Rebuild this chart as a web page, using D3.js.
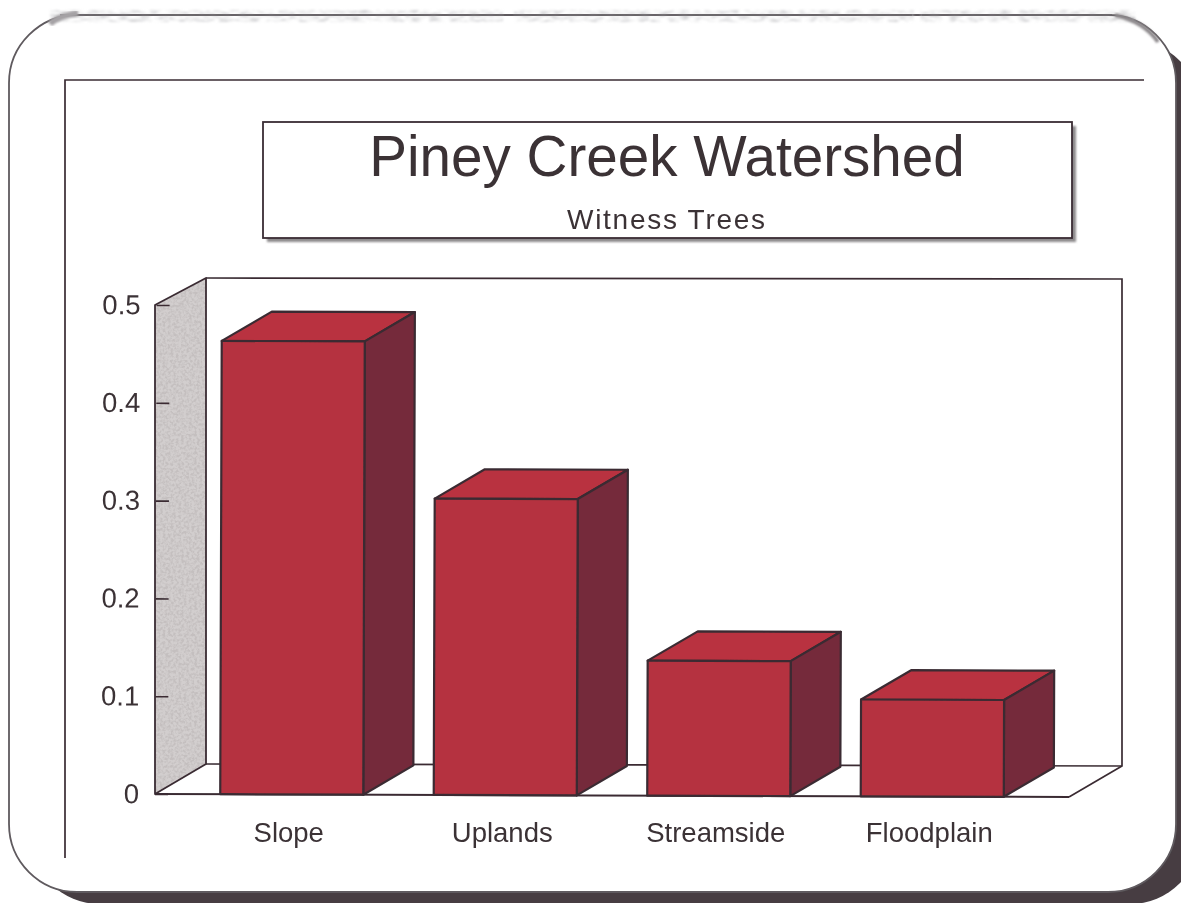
<!DOCTYPE html>
<html><head><meta charset="utf-8">
<script src="https://cdn.jsdelivr.net/npm/d3@7/dist/d3.min.js"></script>
<style>
html,body{margin:0;padding:0;background:#fff;overflow:hidden}
svg{display:block}
text{font-family:"Liberation Sans",Arial,sans-serif;fill:#3b3236}
</style></head><body>
<svg id="c" width="1181" height="903"></svg>
<script>
const categories = ["Slope","Uplands","Streamside","Floodplain"];
const values = [0.4635,0.303,0.138,0.099];
const tickValues = [0,0.1,0.2,0.3,0.4,0.5];
const tickLabels = ["0","0.1","0.2","0.3","0.4","0.5"];
const titleText = "Piney Creek Watershed";
const subtitleText = "Witness Trees";

const svg = d3.select("#c");
const ink = "#3a2c33";
const defs = svg.append("defs");

const wallF = defs.append("filter").attr("id","wall").attr("x",0).attr("y",0).attr("width",1).attr("height",1);
wallF.append("feTurbulence").attr("type","fractalNoise").attr("baseFrequency",0.38).attr("numOctaves",2).attr("seed",4).attr("result","n");
wallF.append("feColorMatrix").attr("in","n").attr("type","matrix")
  .attr("values","0 0 0 0 0.55  0 0 0 0 0.52  0 0 0 0 0.52  3.4 0 0 0 -1.35").attr("result","d");
wallF.append("feComposite").attr("in","d").attr("in2","SourceGraphic").attr("operator","in").attr("result","s");
wallF.append("feMerge").selectAll("feMergeNode").data(["SourceGraphic","s"]).join("feMergeNode").attr("in",d=>d);

const edgeF = defs.append("filter").attr("id","edge").attr("x","-2%").attr("y","-50%").attr("width","104%").attr("height","200%");
edgeF.append("feTurbulence").attr("type","fractalNoise").attr("baseFrequency","0.1 0.45").attr("numOctaves",3).attr("seed",9).attr("result","n");
edgeF.append("feColorMatrix").attr("in","n").attr("type","matrix")
  .attr("values","0 0 0 0 0.55  0 0 0 0 0.55  0 0 0 0 0.57  2 0 0 0 -0.8").attr("result","d");
edgeF.append("feComposite").attr("in","d").attr("in2","SourceGraphic").attr("operator","in").attr("result","s");
edgeF.append("feGaussianBlur").attr("in","s").attr("stdDeviation",1);

defs.append("filter").attr("id","soft").append("feGaussianBlur").attr("stdDeviation",0.9);
defs.append("filter").attr("id","scan").attr("x",0).attr("y",0).attr("width",1).attr("height",1)
  .append("feGaussianBlur").attr("stdDeviation",0.45);

const root = svg.append("g").attr("filter","url(#scan)");
root.append("rect").attr("width",1181).attr("height",903).attr("fill","#fff");

// paper frame
root.append("rect").attr("x",30).attr("y",40).attr("width",1170).attr("height",864).attr("rx",70).attr("fill","#463e43");
root.append("rect").attr("x",9).attr("y",15).attr("width",1167).attr("height",877).attr("rx",68)
  .attr("fill","#fff").attr("stroke","#5f5a5e").attr("stroke-width",1.8);
[[50,453],[514,400],[920,215]].forEach(([x,w])=>{
  root.append("rect").attr("x",x).attr("y",10).attr("width",w).attr("height",12).attr("fill","#fff").attr("filter","url(#edge)");
});
root.append("path").attr("d","M60,15H504M514,15H912M922,15H1112").attr("fill","none").attr("stroke","#6a666a").attr("stroke-width",1.4);
root.append("path").attr("d","M1115,15 Q1145,22 1158,42").attr("fill","none").attr("stroke","#8d898c").attr("stroke-width",4).attr("filter","url(#soft)");
root.append("path").attr("d","M50,24 Q58,16 78,13").attr("fill","none").attr("stroke","#a5a2a5").attr("stroke-width",6).attr("filter","url(#soft)");

// page rule lines
root.append("path").attr("d","M65,858V80H1144").attr("fill","none").attr("stroke",ink).attr("stroke-width",1.7);

// title box
root.append("rect").attr("x",267).attr("y",126).attr("width",809).attr("height",116).attr("fill","#8d8a8c").attr("filter","url(#soft)");
root.append("rect").attr("x",263).attr("y",122).attr("width",809).attr("height",116).attr("fill","#fff").attr("stroke",ink).attr("stroke-width",1.8);
root.append("text").attr("x",667).attr("y",176).attr("text-anchor","middle").attr("font-size",56.6).text(titleText);
root.append("text").attr("x",666).attr("y",229).attr("text-anchor","middle").attr("font-size",28).attr("textLength",198).attr("lengthAdjust","spacing").text(subtitleText);

// scales
const y = d3.scaleLinear().domain([0,0.5]).range([794,305]);
const x = d3.scaleBand().domain(categories).range([185,1039]).paddingInner(0.33).paddingOuter(0.165);
const depthX = 50, depthY = 29.5;
const line = d3.line();

// back walls and floor (scan skew differs slightly from the front plane)
const wallLeft=155, backLeft=206, backRight=1122, frontRight=1069;
const wallPts=[[wallLeft,y(0.5)],[backLeft,y(0.5)-27],[backLeft,y(0)-30],[wallLeft,y(0)]];
root.append("path").attr("d",line(wallPts)+"Z").attr("fill","#d2cece").attr("filter","url(#wall)");
root.append("path").attr("d",line(wallPts)+"Z").attr("fill","none").attr("stroke",ink).attr("stroke-width",1.8).attr("stroke-linejoin","round");
root.append("path").attr("d",line([[backLeft,y(0.5)-27],[backRight,y(0.5)-26],[backRight,y(0)-28],[frontRight,y(0)+3]]))
  .attr("fill","none").attr("stroke",ink).attr("stroke-width",1.7);
root.append("path").attr("d",line([[backLeft,y(0)-30],[backRight,y(0)-28]]))
  .attr("fill","none").attr("stroke",ink).attr("stroke-width",1.7);

const plot = root.append("g").attr("transform","rotate(0.19 155 794)");
plot.append("path").attr("d",line([[wallLeft,y(0)],[frontRight,y(0)]])).attr("fill","none").attr("stroke",ink).attr("stroke-width",2);

// axis
const yAxis = d3.axisLeft(y).tickValues(tickValues).tickFormat((d,i)=>tickLabels[i]).tickSize(-13).tickPadding(16);
const yG = plot.append("g").attr("transform","translate(155,0)").call(yAxis);
yG.select(".domain").remove();
yG.selectAll(".tick line").attr("stroke",ink).attr("stroke-width",1.6);
yG.selectAll("text").attr("font-size",27.5).attr("font-family",null);

// bars
const bars = plot.append("g").selectAll("g").data(categories).join("g");
const stroke = g => g.attr("stroke",ink).attr("stroke-width",2.2).attr("stroke-linejoin","round");
bars.append("path").attr("fill","#b9323f").call(stroke).attr("d",(d,i)=>{
  const l=x(d), r=l+x.bandwidth(), t=y(values[i]);
  return line([[l,t],[l+depthX,t-depthY],[r+depthX,t-depthY],[r,t]])+"Z";
});
bars.append("path").attr("fill","#752b3a").call(stroke).attr("d",(d,i)=>{
  const r=x(d)+x.bandwidth(), t=y(values[i]);
  return line([[r,t],[r+depthX,t-depthY],[r+depthX,y(0)-depthY],[r,y(0)]])+"Z";
});
bars.append("rect").attr("fill","#b5323f").call(stroke)
  .attr("x",d=>x(d)).attr("width",x.bandwidth())
  .attr("y",(d,i)=>y(values[i])).attr("height",(d,i)=>y(0)-y(values[i]));

// category labels
const xAxis = d3.axisBottom(x).tickSize(0).tickPadding(0);
const xG = root.append("g").attr("transform","translate(-3,822)").call(xAxis);
xG.select(".domain").remove();
xG.selectAll("text").attr("font-size",27.5).attr("font-family",null);
</script>
</body></html>
